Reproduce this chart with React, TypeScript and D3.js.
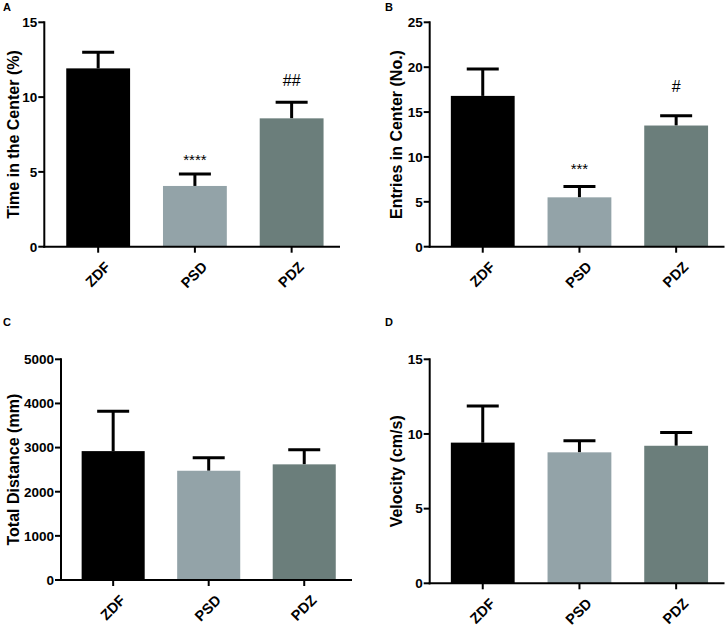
import React from "react";
import * as d3 from "d3";

const groups = ["ZDF", "PSD", "PDZ"];
const barColors = ["#000000", "#93a3a8", "#6b7e7b"];

const timeMeans = [11.92, 4.06, 8.58];
const timeErr = [13.0, 4.86, 9.65];
const timeTicks = [0, 5, 10, 15];
const timeMarks = ["", "****", "##"];
const timeMarkAt = [0, 6.0, 11.14];

const entryMeans = [16.8, 5.5, 13.5];
const entryErr = [19.8, 6.7, 14.6];
const entryTicks = [0, 5, 10, 15, 20, 25];
const entryMarks = ["", "***", "#"];
const entryMarkAt = [0, 9.0, 17.9];

const distMeans = [2920, 2475, 2620];
const distErr = [3825, 2770, 2950];
const distTicks = [0, 1000, 2000, 3000, 4000, 5000];

const velMeans = [9.42, 8.77, 9.21];
const velErr = [11.87, 9.55, 10.09];
const velTicks = [0, 5, 10, 15];

const FONT = "'Liberation Sans', Arial, Helvetica, sans-serif";

type PanelProps = {
  letter: string;
  letterX: number;
  letterY: number;
  left: number;
  right: number;
  top: number;
  bottom: number;
  bandStart: number;
  ymax: number;
  ticks: number[];
  means: number[];
  errs: number[];
  marks?: string[];
  markAt?: number[];
  ylabel: string;
  ylabelX: number;
};

function Panel(p: PanelProps) {
  const y = d3.scaleLinear().domain([0, p.ymax]).range([p.bottom, p.top]);
  const x = d3
    .scaleBand<string>()
    .domain(groups)
    .range([p.bandStart, p.right])
    .paddingInner(0.34)
    .paddingOuter(0.17);
  const bw = x.bandwidth();
  const capW = 32;
  const midY = (p.top + p.bottom) / 2;
  return (
    <g fontFamily={FONT}>
      <text x={p.letterX} y={p.letterY} fontSize={11} fontWeight="bold">
        {p.letter}
      </text>
      {groups.map((g, i) => {
        const cx = (x(g) as number) + bw / 2;
        const isStar = p.marks && p.marks[i] ? p.marks[i].startsWith("*") : false;
        return (
          <g key={g}>
            <line x1={cx} x2={cx} y1={y(p.errs[i])} y2={y(p.means[i])} stroke="#000" strokeWidth={3} />
            <line x1={cx - capW / 2} x2={cx + capW / 2} y1={y(p.errs[i])} y2={y(p.errs[i])} stroke="#000" strokeWidth={3} />
            <rect x={x(g)} y={y(p.means[i])} width={bw} height={p.bottom - y(p.means[i])} fill={barColors[i]} />
            {p.marks && p.marks[i] && p.markAt ? (
              <text
                x={cx}
                y={y(p.markAt[i])}
                dy={isStar ? "0.55em" : "0.36em"}
                textAnchor="middle"
                fontSize={isStar ? 15 : 16}
              >
                {p.marks[i]}
              </text>
            ) : null}
          </g>
        );
      })}
      {/* y axis */}
      <line x1={p.left} x2={p.left} y1={p.top - 1} y2={p.bottom + 1} stroke="#000" strokeWidth={2} />
      {p.ticks.map((t) => (
        <g key={t}>
          <line x1={p.left - 6} x2={p.left} y1={y(t)} y2={y(t)} stroke="#000" strokeWidth={2} />
          <text x={p.left - 7} y={y(t)} dy="0.36em" textAnchor="end" fontSize={13.5} fontWeight="bold">
            {t}
          </text>
        </g>
      ))}
      {/* x axis */}
      <line x1={p.left - 1} x2={p.right} y1={p.bottom} y2={p.bottom} stroke="#000" strokeWidth={2} />
      {groups.map((g) => {
        const cx = (x(g) as number) + bw / 2;
        return (
          <g key={g}>
            <line x1={cx} x2={cx} y1={p.bottom} y2={p.bottom + 6} stroke="#000" strokeWidth={2} />
            <text
              transform={`translate(${cx + 6},${p.bottom + 14}) rotate(-45)`}
              textAnchor="end"
              dy="0.7em"
              fontSize={14.5}
              fontWeight="bold"
            >
              {g}
            </text>
          </g>
        );
      })}
      <text
        transform={`translate(${p.ylabelX},${midY}) rotate(-90)`}
        textAnchor="middle"
        dy="0.36em"
        fontSize={16}
        fontWeight="bold"
      >
        {p.ylabel}
      </text>
    </g>
  );
}

export default function App() {
  return (
    <svg
      width={726}
      height={630}
      style={{ position: "absolute", left: 0, top: 0, background: "#fff" }}
    >
      <rect width={726} height={630} fill="#fff" />
      <Panel
        letter="A" letterX={3} letterY={11}
        left={44.3} right={340} top={22.3} bottom={246.7} bandStart={49.8}
        ymax={15} ticks={timeTicks} means={timeMeans} errs={timeErr}
        marks={timeMarks} markAt={timeMarkAt}
        ylabel="Time in the Center (%)" ylabelX={13}
      />
      <Panel
        letter="B" letterX={385} letterY={11}
        left={429.7} right={724.5} top={22.3} bottom={246.7} bandStart={434.4}
        ymax={25} ticks={entryTicks} means={entryMeans} errs={entryErr}
        marks={entryMarks} markAt={entryMarkAt}
        ylabel="Entries in Center (No.)" ylabelX={396}
      />
      <Panel
        letter="C" letterX={3} letterY={326}
        left={61} right={352} top={359.3} bottom={580} bandStart={65.4}
        ymax={5000} ticks={distTicks} means={distMeans} errs={distErr}
        ylabel="Total Distance (mm)" ylabelX={13}
      />
      <Panel
        letter="D" letterX={385} letterY={326}
        left={429.7} right={724.5} top={359.3} bottom={583.3} bandStart={434.4}
        ymax={15} ticks={velTicks} means={velMeans} errs={velErr}
        ylabel="Velocity (cm/s)" ylabelX={396}
      />
    </svg>
  );
}
